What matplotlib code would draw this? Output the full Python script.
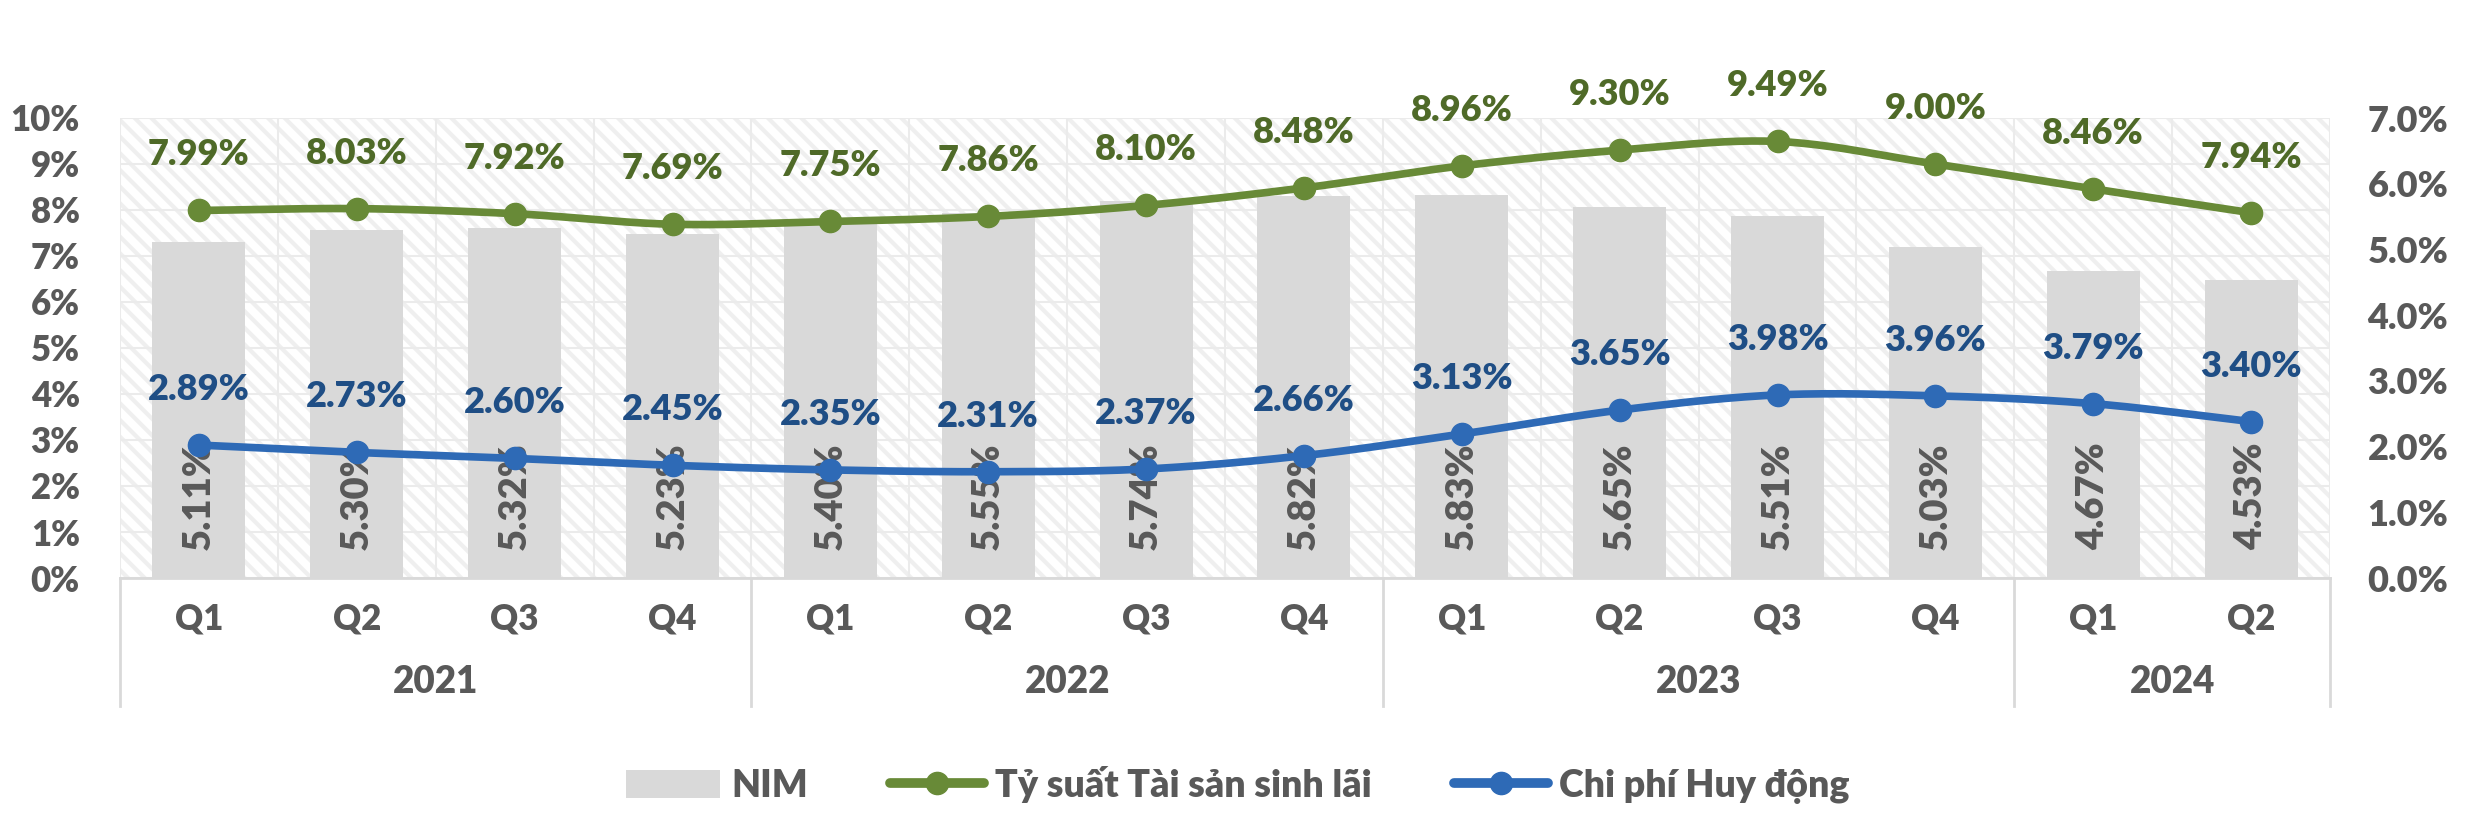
import numpy as np
import matplotlib
matplotlib.use("Agg")
import matplotlib.pyplot as plt
from matplotlib.lines import Line2D
from matplotlib.patches import Patch

plt.rcParams['font.family'] = ['Lato', 'Open Sans', 'DejaVu Sans']
plt.rcParams['font.weight'] = 'heavy'
plt.rcParams['hatch.linewidth'] = 3.0
plt.rcParams['hatch.color'] = '#eeeeee'
W = 'heavy'

quarters = ["Q1", "Q2", "Q3", "Q4", "Q1", "Q2", "Q3", "Q4", "Q1", "Q2", "Q3", "Q4", "Q1", "Q2"]
years = ["2021", "2022", "2023", "2024"]
year_counts = [4, 4, 4, 2]
nim = [5.11, 5.30, 5.32, 5.23, 5.40, 5.55, 5.74, 5.82, 5.83, 5.65, 5.51, 5.03, 4.67, 4.53]
yield_assets = [7.99, 8.03, 7.92, 7.69, 7.75, 7.86, 8.10, 8.48, 8.96, 9.30, 9.49, 9.00, 8.46, 7.94]
funding_cost = [2.89, 2.73, 2.60, 2.45, 2.35, 2.31, 2.37, 2.66, 3.13, 3.65, 3.98, 3.96, 3.79, 3.40]
left_ticks = [0, 1, 2, 3, 4, 5, 6, 7, 8, 9, 10]
right_ticks = [0, 1, 2, 3, 4, 5, 6, 7]

TXT = '#595959'
GREEN = '#688a37'
GREEN_LBL = '#4f6a28'
BLUE = '#2e6ab6'
BLUE_LBL = '#1f4e85'
BAR = '#d9d9d9'


def smooth(x, y, n=24):
    x = np.asarray(x, float)
    y = np.asarray(y, float)
    px = np.concatenate([[2 * x[0] - x[1]], x, [2 * x[-1] - x[-2]]])
    py = np.concatenate([[2 * y[0] - y[1]], y, [2 * y[-1] - y[-2]]])
    xs, ys = [], []
    t = np.linspace(0, 1, n, endpoint=False)

    def cr(a0, a1, a2, a3):
        return 0.5 * ((2 * a1) + (-a0 + a2) * t + (2 * a0 - 5 * a1 + 4 * a2 - a3) * t ** 2
                      + (-a0 + 3 * a1 - 3 * a2 + a3) * t ** 3)
    for i in range(1, len(px) - 2):
        xs.append(cr(px[i - 1], px[i], px[i + 1], px[i + 2]))
        ys.append(cr(py[i - 1], py[i], py[i + 1], py[i + 2]))
    xs.append([x[-1]])
    ys.append([y[-1]])
    return np.concatenate(xs), np.concatenate(ys)


fig = plt.figure(figsize=(24.76, 8.25), dpi=100)
L, R, B, T = 120 / 2476, 2330 / 2476, 1 - 578 / 825, 1 - 118 / 825
ax = fig.add_axes([L, B, R - L, T - B])
x = np.arange(len(quarters))

# background hatch
ax.patch.set_facecolor('white')
ax.patch.set_hatch('\\\\')
ax.patch.set_edgecolor('#efefef')
ax.patch.set_linewidth(0)

ax.set_xlim(-0.5, len(quarters) - 0.5)
ax.set_ylim(0, 7)
for v in np.arange(0, 10.01, 1):
    ax.axhline(v * 0.7, color='#ebebeb', lw=1.5, zorder=0.5)
for b in np.arange(-0.5, len(quarters), 1):
    ax.axvline(b, color='#ebebeb', lw=1.5, zorder=0.5)

ax.bar(x, nim, width=0.59, color=BAR, zorder=1)
for xi, v in zip(x, nim):
    ax.annotate(f"{v:.2f}%", (xi, 0), xytext=(0, 20), textcoords='offset points',
                rotation=90, ha='center', va='bottom', fontsize=27.5, color=TXT,
                fontweight=W, zorder=2)

ax.set_xticks([])
for s in ['top', 'left', 'right']:
    ax.spines[s].set_visible(False)
ax.spines['bottom'].set_color('#d9d9d9')
ax.spines['bottom'].set_linewidth(2)

ax2 = ax.twinx()
ax.yaxis.tick_right()
ax.yaxis.set_label_position('right')
ax.set_yticks(right_ticks)
ax.set_yticklabels([f"{t:.1f}%" for t in right_ticks], fontweight=W)
ax.tick_params(axis='y', which='both', left=False, right=False, labelleft=False,
               labelright=True, length=0, pad=27, labelsize=26, labelcolor=TXT)

ax2.set_ylim(0, 10)
ax2.set_xlim(-0.5, len(quarters) - 0.5)
ax2.yaxis.tick_left()
ax2.yaxis.set_label_position('left')
ax2.set_yticks(left_ticks)
ax2.set_yticklabels([f"{t}%" for t in left_ticks], fontweight=W)
ax2.tick_params(axis='y', which='both', left=False, right=False, labelleft=True,
                labelright=False, length=0, pad=29, labelsize=25, labelcolor=TXT)
for s in ax2.spines.values():
    s.set_visible(False)

for data, lc, tc in [(yield_assets, GREEN, GREEN_LBL), (funding_cost, BLUE, BLUE_LBL)]:
    sx, sy = smooth(x, data)
    ax2.plot(sx, sy, color=lc, lw=5.5, solid_capstyle='round', zorder=3)
    ax2.plot(x, data, 'o', color=lc, ms=16, zorder=4)
    for xi, v in zip(x, data):
        ax2.annotate(f"{v:.2f}%", (xi, v), xytext=(0, 40), textcoords='offset points',
                     ha='center', va='center', fontsize=26, color=tc,
                     fontweight=W, zorder=5, annotation_clip=False)

# two-level category axis
blend = matplotlib.transforms.blended_transform_factory(ax.transData, ax.transAxes)
ph = 460.0
for xi, q in zip(x, quarters):
    ax.text(xi, -(619 - 578) / ph, q, transform=blend, ha='center', va='center',
            fontsize=25, color=TXT, fontweight=W)
start = 0
bounds = [-0.5]
for yr, c in zip(years, year_counts):
    ax.text(start + (c - 1) / 2, -(682 - 578) / ph, yr, transform=blend, ha='center',
            va='center', fontsize=26.5, color=TXT, fontweight=W)
    start += c
    bounds.append(start - 0.5)
for bnd in bounds:
    ax.plot([bnd, bnd], [0, -(706 - 578) / ph], transform=blend, color='#d9d9d9',
            lw=2, clip_on=False)

handles = [Patch(facecolor=BAR, edgecolor='none'),
           Line2D([0], [0], color=GREEN, lw=7, marker='o', ms=16, solid_capstyle='round'),
           Line2D([0], [0], color=BLUE, lw=7, marker='o', ms=16, solid_capstyle='round')]
labels = ["NIM", "Tỷ suất Tài sản sinh lãi", "Chi phí Huy động"]
fig.legend(handles, labels, loc='center', bbox_to_anchor=(0.5, 1 - 785 / 825), ncol=3,
           frameon=False, labelcolor=TXT, handlelength=2.5,
           prop={'size': 27, 'weight': W, 'family': ['Lato', 'Open Sans', 'DejaVu Sans']},
           handleheight=0.8, columnspacing=2.2, handletextpad=0.3)

fig.savefig("out.png", dpi=100)
